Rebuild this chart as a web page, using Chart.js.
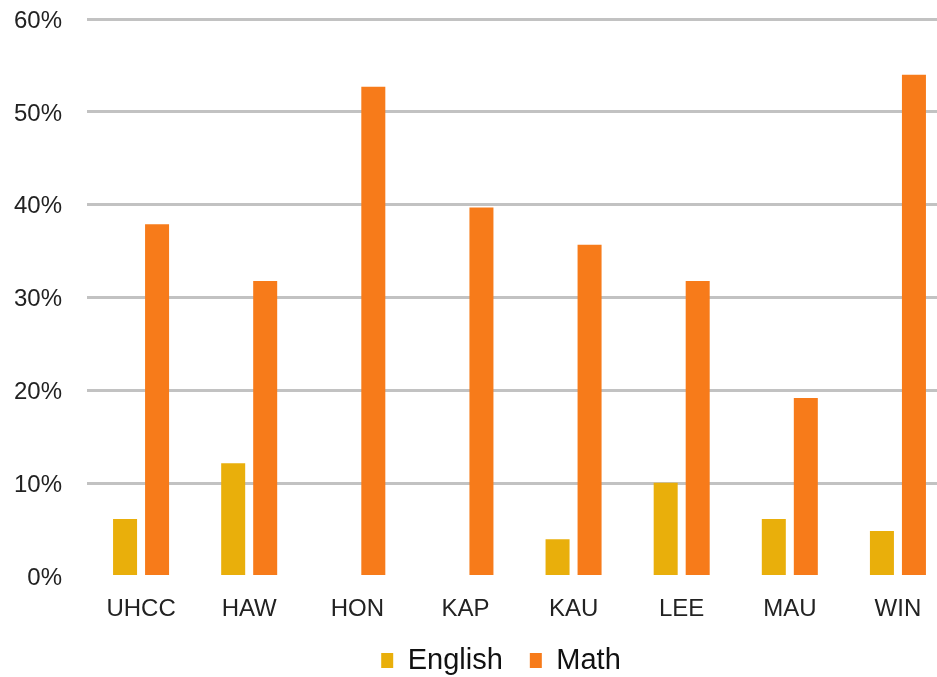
<!DOCTYPE html>
<html>
<head>
<meta charset="utf-8">
<script src="https://cdn.jsdelivr.net/npm/chart.js@4"></script>
<style>
  html, body { margin: 0; padding: 0; background: #ffffff; overflow: hidden; }
  #wrap { position: relative; width: 960px; height: 685px; }
</style>
</head>
<body>
<div id="wrap"><canvas id="c"></canvas></div>
<script>
const categories = ["UHCC", "HAW", "HON", "KAP", "KAU", "LEE", "MAU", "WIN"];
const englishValues = [6.2, 12.2, 0, 0, 4.0, 10.1, 6.2, 4.9];
const mathValues = [37.9, 31.8, 52.7, 39.7, 35.7, 31.8, 19.2, 54.0];
const seriesNames = ["English", "Math"];
const yTicks = [0, 10, 20, 30, 40, 50, 60];

const FONT = "'Liberation Sans', Arial, Helvetica, sans-serif";

const legendShift = {
  id: 'legendShift',
  afterLayout(chart) {
    const l = chart.legend;
    if (l) { l.left += 25; l.right += 25; }
  }
};

new Chart(document.getElementById('c'), {
  type: 'bar',
  data: {
    labels: categories,
    datasets: [
      { label: seriesNames[0], data: englishValues, backgroundColor: '#E9AF0B', borderWidth: 0 },
      { label: seriesNames[1], data: mathValues, backgroundColor: '#F77B1A', borderWidth: 0 }
    ]
  },
  plugins: [legendShift],
  options: {
    responsive: true,
    maintainAspectRatio: false,
    animation: false,
    devicePixelRatio: 1,
    categoryPercentage: 0.592,
    barPercentage: 0.75,
    layout: { padding: { top: 19, left: 0, right: 8, bottom: 0 } },
    plugins: {
      tooltip: { enabled: false },
      legend: {
        position: 'bottom',
        labels: {
          font: { family: FONT, size: 29 },
          color: '#111111',
          boxWidth: 12,
          boxHeight: 15,
          padding: 27
        }
      }
    },
    scales: {
      x: {
        grid: { display: false, drawTicks: false },
        border: { display: false },
        ticks: {
          font: { family: FONT, size: 24 },
          color: '#222222',
          padding: 18
        },
        afterFit: (s) => { s.height = 42.5; }
      },
      y: {
        min: 0,
        max: 60,
        afterBuildTicks: (s) => { s.ticks = yTicks.map(v => ({ value: v })); },
        grid: {
          drawTicks: false,
          lineWidth: 3,
          color: (ctx) => (ctx.tick && ctx.tick.value === 0) ? 'rgba(0,0,0,0)' : '#c2c2c2'
        },
        border: { display: false },
        ticks: {
          font: { family: FONT, size: 24 },
          color: '#222222',
          padding: 25,
          labelOffset: 2,
          callback: (v) => v + '%'
        },
        afterFit: (s) => { s.width = 87; s.paddingTop = 14; s.paddingBottom = 14; }
      }
    }
  }
});
</script>
</body>
</html>
